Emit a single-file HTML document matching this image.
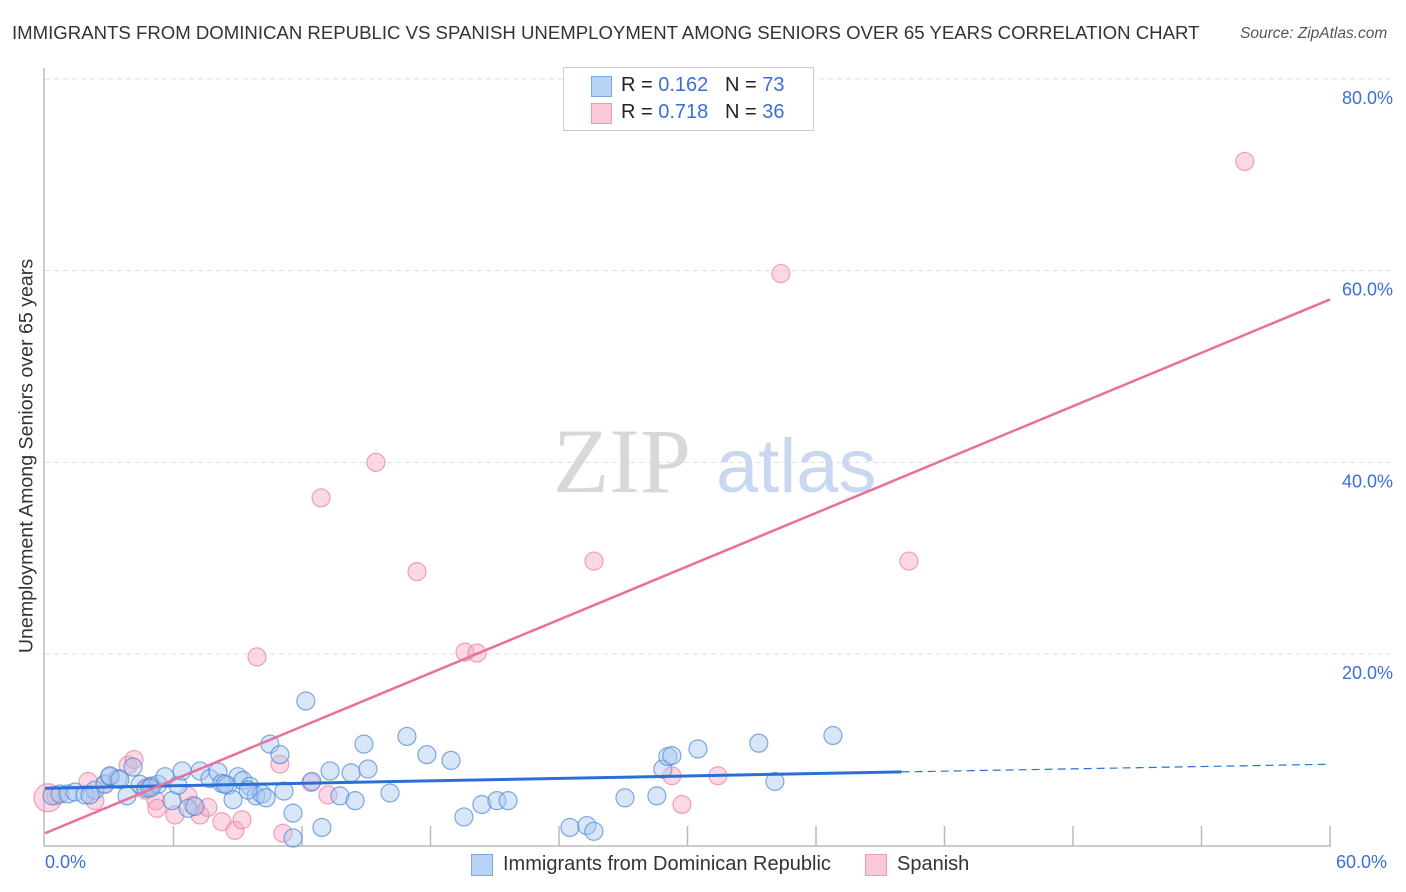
<!DOCTYPE html>
<html><head><meta charset="utf-8"><style>
body{margin:0;background:#fff;font-family:"Liberation Sans",sans-serif;}
#wrap{position:relative;width:1406px;height:892px;overflow:hidden;}
.t{position:absolute;white-space:nowrap;}
</style></head><body>
<div id="wrap">
<div class="t" style="left:12px;top:22px;font-size:18.6px;color:#333;">IMMIGRANTS FROM DOMINICAN REPUBLIC VS SPANISH UNEMPLOYMENT AMONG SENIORS OVER 65 YEARS CORRELATION CHART</div>
<div class="t" style="left:1240px;top:25px;font-size:15.5px;color:#555;font-style:italic;">Source: ZipAtlas.com</div>
<svg id="svg" width="1406" height="892" style="position:absolute;left:0;top:0"></svg>
</div>
<script>
const yTicks=[20,40,60,80];
const yTickLabels=["20.0%","40.0%","60.0%","80.0%"];
const blueX=[0.33,0.70,1.07,1.40,1.87,2.33,2.80,3.03,3.41,3.83,4.11,4.44,4.72,5.00,5.28,5.60,5.93,6.21,6.40,6.68,7.00,7.24,7.70,8.08,8.26,8.54,8.78,9.01,9.24,9.57,9.85,10.13,10.32,10.50,10.97,11.16,11.58,12.18,12.46,12.93,13.31,13.77,14.29,14.48,14.89,15.08,16.11,16.90,17.83,18.96,19.56,20.40,21.10,21.62,24.51,25.30,25.63,27.08,28.57,28.85,29.08,29.27,30.49,33.33,34.08,36.79,11.58,9.48,8.40,3.03,3.50,2.10,4.90];
const blueY=[5.2,5.4,5.4,5.6,5.3,5.8,6.4,7.2,7.0,5.2,8.2,6.4,6.0,6.2,6.4,7.2,4.7,6.3,7.8,3.9,4.1,7.8,7.0,7.7,6.5,6.3,4.8,7.2,6.8,6.2,5.2,5.4,5.0,10.6,9.5,5.7,3.4,15.1,6.7,1.9,7.8,5.2,7.6,4.7,10.6,8.0,5.5,11.4,9.5,8.9,3.0,4.3,4.7,4.7,1.9,2.1,1.5,5.0,5.2,8.0,9.3,9.4,10.1,10.7,6.7,11.5,0.8,5.8,6.4,7.3,6.9,5.3,6.0];
const pinkX=[0.14,0.51,2.01,2.33,2.80,3.88,4.16,4.67,5.18,5.23,6.07,6.68,6.91,7.24,7.61,8.26,8.87,9.20,9.90,10.97,11.11,12.42,12.89,13.21,15.45,17.37,19.61,20.17,25.63,29.27,29.74,31.42,34.36,40.34,56.02,4.90];
const pinkY=[5.0,5.2,6.7,4.7,6.5,8.4,9.0,5.8,4.7,3.9,3.2,5.2,4.2,3.2,4.0,2.5,1.6,2.7,19.7,8.5,1.3,6.6,36.3,5.3,40.0,28.6,20.2,20.1,29.7,7.3,4.3,7.3,59.7,29.7,71.4,6.2];
const blueTrend=[[0,6.0],[40,7.7],[60,8.5]];
const pinkTrend=[[0,1.3],[60,57.0]];
const X0=45,X1=1330,Y0=845.7,Y80=79;
const xs=v=>X0+(v/60)*(X1-X0);
const ys=v=>Y0-(v/80)*(Y0-Y80);
const svg=document.getElementById('svg');
const NS='http://www.w3.org/2000/svg';
function mk(tag,attrs,parent){const e=document.createElementNS(NS,tag);for(const k in attrs)e.setAttribute(k,attrs[k]);(parent||svg).appendChild(e);return e;}
yTicks.forEach((t,i)=>{
 const g=mk('line',{x1:45,x2:1393,y1:ys(t),y2:ys(t),stroke:'#ddd','stroke-dasharray':'5,4'});
 
 
 const l=mk('text',{x:1393,y:ys(t)+25,'text-anchor':'end','font-size':18,fill:'#3b6fd4','font-family':'Liberation Sans, sans-serif'});
 l.textContent=yTickLabels[i];
 
 
});
const w1=mk('text',{x:553,y:492,'font-size':92,fill:'#d8d8d8','font-family':'Liberation Serif, serif'});w1.textContent='ZIP';


const w2=mk('text',{x:716,y:492,'font-size':76,fill:'#c9d8f0','font-family':'Liberation Sans, sans-serif'});w2.textContent='atlas';


const ax=mk('line',{x1:44,x2:44,y1:68,y2:846,stroke:'#bbb','stroke-width':1.5});


const bx=mk('line',{x1:44,x2:1331,y1:846,y2:846,stroke:'#bbb','stroke-width':1.5});


for(let i=1;i<=10;i++){const tk=mk('line',{x1:xs(i*6),x2:xs(i*6),y1:826,y2:846,stroke:'#bbb','stroke-width':1.5});

}
function pts(X,Y,fill,stroke,name,big){X.forEach((x,i)=>{const c=mk('circle',{cx:xs(x),cy:ys(Y[i]),r:(big&&i===0)?14:9,fill:fill,'fill-opacity':0.45,stroke:stroke,'stroke-opacity':0.7,'stroke-width':1.2});

});}
pts(pinkX,pinkY,'#f7a8c0','#e87fa0','spanish-point',true);
pts(blueX,blueY,'#a8c8f0','#4a86d8','dominican-point',false);
const bt=mk('line',{x1:xs(blueTrend[0][0]),y1:ys(blueTrend[0][1]),x2:xs(blueTrend[1][0]),y2:ys(blueTrend[1][1]),stroke:'#2a6fd6','stroke-width':3});


const bd=mk('line',{x1:xs(blueTrend[1][0]),y1:ys(blueTrend[1][1]),x2:xs(blueTrend[2][0]),y2:ys(blueTrend[2][1]),stroke:'#2a6fd6','stroke-width':1.2,'stroke-dasharray':'8,5'});


const pt=mk('line',{x1:xs(pinkTrend[0][0]),y1:ys(pinkTrend[0][1]),x2:xs(pinkTrend[1][0]),y2:ys(pinkTrend[1][1]),stroke:'#e8709a','stroke-width':2.5});


</script>
<div class="t" style="left:27px;top:456px;font-size:19.6px;color:#333;transform:translate(-50%,-50%) rotate(-90deg);">Unemployment Among Seniors over 65 years</div>
<div class="t" style="left:45px;top:852px;font-size:18px;color:#3b6fd4;">0.0%</div>
<div class="t" style="left:1336px;top:852px;font-size:18px;color:#3b6fd4;">60.0%</div>
<div style="position:absolute;left:563px;top:67px;width:249px;height:62px;border:1px solid #ccc;background:#fff;font-size:20px;">
 <div style="position:absolute;left:27px;top:8px;width:19px;height:19px;background:#b8d3f5;border:1px solid #7aa6e2"></div>
 <div class="t" style="left:57px;top:6px;color:#222">R = <span style="color:#3b6fd4">0.162</span>&nbsp;&nbsp;&nbsp;N = <span style="color:#3b6fd4">73</span></div>
 <div style="position:absolute;left:27px;top:35px;width:19px;height:19px;background:#fac9d7;border:1px solid #ea9ab3"></div>
 <div class="t" style="left:57px;top:33px;color:#222">R = <span style="color:#3b6fd4">0.718</span>&nbsp;&nbsp;&nbsp;N = <span style="color:#3b6fd4">36</span></div>
</div>
<div style="position:absolute;left:471px;top:853px;font-size:20px;color:#333;">
 <div style="position:absolute;left:0;top:1px;width:20px;height:20px;background:#b8d3f5;border:1px solid #7aa6e2"></div>
 <div class="t" style="left:32px;top:0">Immigrants from Dominican Republic</div></div>
<div style="position:absolute;left:865px;top:853px;font-size:20px;color:#333;">
 <div style="position:absolute;left:0;top:1px;width:20px;height:20px;background:#fac9d7;border:1px solid #ea9ab3"></div>
 <div class="t" style="left:32px;top:0">Spanish</div></div>
</body></html>
